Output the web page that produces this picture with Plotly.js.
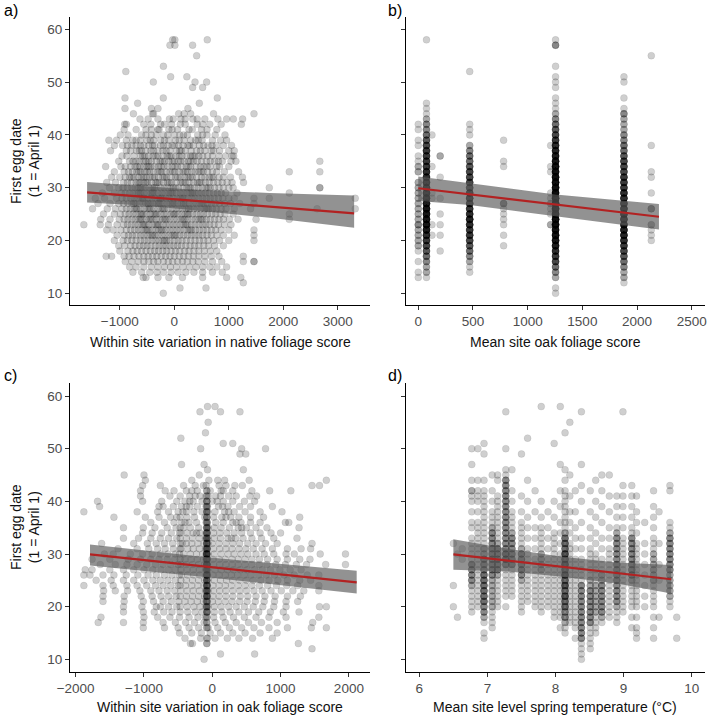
<!DOCTYPE html>
<html>
<head>
<meta charset="utf-8">
<script src="https://cdn.plot.ly/plotly-3.0.1.min.js"></script>
<style>
  html, body { margin: 0; padding: 0; background: #fff; }
  #chart { width: 709px; height: 720px; }
</style>
</head>
<body>
<div id="chart"></div>
<script>
// ---------- a) first egg date vs within-site variation in native foliage score ----------
// each row: [first egg date, [native foliage score deviations of nests started that day]]
const nativeRows = [
  [58, [-30, 10, 605]],
  [57, [-80, 10, 336]],
  [55, [410]],
  [53, [-200]],
  [52, [-890]],
  [51, [-67, 230]],
  [50, [-385, 380, 593]],
  [49, [336, 520]],
  [47, [-905, -202, 789]],
  [46, [-673, 459]],
  [45, [-905, -420, -300, 250]],
  [44, [-750, -400, -380, 80, 180, 300, 720, 1462]],
  [43, [-630, -480, -300, -90, -20, 120, 200, 340, 420, 560, 800, 960, 1083, 1254]],
  [42, [-910, -880, -560, -430, -250, -180, -50, 110, 200, 420, 520, 650, 860, 1230]],
  [41, [-920, -700, -520, -420, -300, -280, -100, -40, 60, 270, 330, 500, 600, 780]],
  [40, [-990, -850, -600, -520, -420, -330, -200, -120, 0, 100, 170, 240, 430, 520, 600, 750, 930]],
  [39, [-1200, -1060, -880, -760, -700, -620, -500, -440, -380, -250, -180, -100, 20, 90, 180, 300, 390, 440, 510, 700, 850, 960]],
  [38, [-1100, -950, -860, -780, -700, -620, -560, -470, -400, -360, -250, -200, -120, -40, 0, 80, 160, 250, 280, 350, 460, 540, 620, 690, 770, 900, 1050]],
  [37, [-1170, -880, -800, -690, -640, -600, -520, -430, -380, -300, -210, -150, -80, 40, 100, 130, 200, 310, 410, 480, 560, 680, 720, 830, 1000, 1100]],
  [36, [-960, -870, -740, -620, -580, -540, -470, -390, -340, -300, -210, -130, -90, -60, 30, 90, 140, 230, 300, 340, 380, 450, 520, 610, 700, 820, 940, 1060, 1090]],
  [35, [-1020, -820, -760, -700, -640, -560, -520, -470, -420, -330, -260, -220, -180, -100, -40, 0, 70, 120, 180, 260, 300, 350, 420, 500, 590, 660, 740, 810, 880, 1040, 1130, 2670]],
  [34, [-1260, -980, -900, -800, -720, -680, -630, -560, -500, -470, -430, -360, -290, -240, -190, -120, -40, 10, 60, 130, 220, 260, 300, 400, 480, 540, 600, 660, 780, 830, 1000]],
  [33, [-1100, -920, -840, -770, -690, -650, -620, -540, -500, -450, -380, -300, -260, -230, -150, -80, -30, 10, 90, 160, 200, 240, 320, 380, 450, 490, 530, 610, 700, 780, 920, 1180, 2110, 2670]],
  [32, [-1150, -1000, -900, -820, -780, -740, -660, -600, -560, -520, -450, -400, -360, -290, -210, -180, -140, -60, 20, 60, 110, 190, 250, 290, 330, 410, 500, 560, 640, 690, 720, 820, 900, 1030, 1250]],
  [31, [-1240, -1080, -930, -860, -790, -700, -660, -630, -560, -520, -490, -420, -340, -310, -280, -200, -130, -90, -50, 40, 120, 160, 200, 270, 350, 420, 460, 490, 570, 640, 720, 800, 880, 970, 1060, 1270]],
  [30, [-1190, -1020, -940, -860, -780, -720, -660, -620, -590, -530, -460, -400, -370, -330, -250, -190, -120, -60, -20, 20, 80, 160, 230, 270, 300, 370, 440, 510, 580, 620, 660, 740, 820, 900, 1000, 1080, 1743, 2670, 2670]],
  [29, [-1320, -1100, -970, -900, -820, -760, -690, -650, -620, -560, -500, -430, -400, -370, -300, -230, -170, -100, -60, -30, 40, 110, 170, 240, 300, 330, 370, 440, 500, 570, 640, 720, 790, 860, 940, 1150, 2110]],
  [28, [-1450, -1280, -1060, -960, -880, -800, -740, -670, -610, -580, -550, -480, -410, -350, -280, -250, -220, -150, -90, -20, 50, 110, 150, 180, 250, 320, 380, 450, 520, 590, 660, 730, 810, 890, 1000, 1100, 1462, 1743, 3320]],
  [27, [-1400, -1180, -1020, -930, -850, -780, -740, -710, -640, -580, -520, -480, -450, -390, -330, -290, -260, -200, -130, -70, -30, 0, 60, 130, 170, 200, 270, 340, 400, 470, 510, 540, 610, 680, 750, 830, 920, 1030, 1200, 1462]],
  [26, [-1500, -1230, -1080, -960, -880, -810, -740, -700, -680, -620, -550, -490, -460, -430, -370, -300, -240, -210, -180, -110, -40, 30, 90, 150, 220, 260, 290, 360, 420, 490, 560, 600, 630, 700, 770, 860, 950, 1100, 1400, 2620, 3320]],
  [25, [-1300, -1100, -990, -900, -830, -760, -700, -630, -600, -570, -510, -440, -380, -350, -320, -250, -190, -130, -60, -10, 10, 70, 140, 200, 240, 270, 340, 410, 480, 540, 610, 690, 760, 840, 930, 1080, 2110]],
  [24, [-1350, -1180, -1010, -920, -850, -780, -710, -650, -620, -590, -520, -460, -430, -400, -330, -270, -210, -170, -140, -80, -10, 50, 120, 160, 190, 250, 320, 390, 450, 490, 520, 590, 660, 740, 820, 900, 1010, 1170, 1500, 2110]],
  [23, [-1660, -1360, -1210, -1050, -930, -860, -790, -720, -660, -590, -560, -530, -470, -400, -340, -310, -280, -210, -150, -90, -20, 40, 110, 170, 210, 240, 310, 380, 450, 520, 580, 650, 730, 810, 920, 1040]],
  [22, [-1240, -1120, -980, -880, -800, -730, -660, -600, -530, -500, -470, -400, -340, -280, -240, -210, -150, -80, -20, 50, 110, 180, 250, 290, 320, 390, 460, 530, 600, 680, 760, 860, 1000, 1462]],
  [21, [-1050, -920, -840, -770, -700, -620, -560, -490, -430, -400, -360, -300, -230, -170, -100, -40, 0, 30, 100, 170, 240, 310, 380, 450, 520, 600, 680, 780, 900, 1100, 1462]],
  [20, [-1100, -940, -860, -780, -700, -620, -550, -480, -410, -340, -280, -210, -180, -140, -80, 0, 70, 140, 220, 300, 380, 460, 540, 620, 720, 830, 1000, 1462]],
  [19, [-1020, -910, -800, -720, -640, -570, -500, -430, -350, -280, -210, -150, -80, -10, 60, 130, 210, 290, 370, 450, 540, 630, 740, 900]],
  [18, [-1000, -850, -760, -680, -600, -520, -440, -360, -290, -210, -140, -60, 20, 100, 190, 270, 360, 450, 550, 660, 780]],
  [17, [-1250, -1150, -920, -830, -740, -650, -560, -480, -400, -320, -240, -160, -80, 0, 90, 170, 260, 350, 450, 560, 680, 820, 1266]],
  [16, [-900, -780, -660, -560, -470, -380, -300, -200, -110, -30, 60, 150, 240, 340, 440, 560, 700, 870, 1266, 1462, 1462]],
  [15, [-820, -700, -560, -420, -300, -180, -70, 40, 160, 280, 400, 520, 650, 780, 960]],
  [14, [-760, -600, -450, -320, -200, -60, 70, 210, 360, 520, 700, 880]],
  [13, [-570, -520, -300, -100, 150, 520, 960, 1220]],
  [12, [1266]],
  [11, [104, 581]],
  [10, [-202]]
];
const nativeFitX = [-1600, 3300];
const nativeFitY = [29.1, 25.15];
const nativeBandX  = [-1600, -500, 500, 1750, 3300];
const nativeBandLo = [27.2, 26.6, 25.6, 24.3, 22.4];
const nativeBandHi = [31.1, 30.2, 29.5, 29.0, 28.5];

// ---------- b) first egg date vs mean site oak foliage score ----------
const oakSiteScore = [0, 75, 125, 200, 470, 780, 1210, 1255, 1880, 2130];
const oakSiteDates = [
  [42, 41, 39, 38, 36, 35, 34, 33, 31, 30, 29, 28, 27, 26, 25, 24, 23, 22, 21, 20, 19, 18, 16, 14, 13],
  [58, 46, 45, 44, 43, 42, 41, 40, 39, 38, 37, 36, 35, 34, 33, 32, 31, 30, 29, 28, 27, 26, 25, 24, 23, 22, 21, 20, 19, 18, 17, 16, 15, 14, 13],
  [40, 34, 29, 28, 23, 21],
  [36, 32, 28, 25, 23, 21, 18],
  [52, 42, 41, 40, 38, 37, 36, 35, 34, 33, 32, 31, 30, 29, 28, 27, 26, 25, 24, 23, 22, 21, 20, 19, 18, 17, 16, 15, 14],
  [39, 35, 34, 27, 26, 25, 24, 23, 21, 19],
  [38, 34, 33, 29, 28, 27, 26, 25, 23],
  [58, 57, 53, 51, 50, 49, 47, 46, 45, 44, 43, 42, 41, 40, 39, 38, 37, 36, 35, 34, 33, 32, 31, 30, 29, 28, 27, 26, 25, 24, 23, 22, 21, 20, 19, 18, 17, 16, 15, 14, 13, 11, 10],
  [51, 50, 47, 45, 44, 43, 42, 41, 40, 39, 38, 37, 36, 35, 34, 33, 32, 31, 30, 29, 28, 27, 26, 25, 24, 23, 22, 21, 20, 19, 18, 17, 16, 15, 14, 13, 12],
  [55, 38, 33, 32, 29, 26, 23, 22, 21, 20]
];
// number of nests sharing each site/date combination
const oakSiteCounts = [
  [1, 1, 1, 1, 1, 1, 2, 2, 2, 2, 2, 2, 2, 2, 2, 2, 3, 2, 2, 2, 2, 1, 1, 1, 1],
  [1, 1, 1, 1, 2, 3, 3, 4, 5, 6, 7, 7, 7, 7, 8, 8, 9, 9, 9, 10, 10, 11, 11, 11, 11, 10, 8, 7, 6, 5, 4, 3, 2, 2, 1],
  [1, 1, 1, 1, 1, 1],
  [2, 1, 1, 1, 1, 1, 1],
  [1, 1, 1, 1, 2, 3, 4, 4, 5, 6, 6, 6, 6, 7, 7, 7, 7, 8, 9, 8, 7, 7, 6, 5, 4, 3, 2, 1, 1],
  [1, 1, 1, 3, 1, 1, 1, 1, 1, 1],
  [1, 1, 1, 1, 1, 2, 1, 1, 2],
  [1, 3, 1, 1, 1, 1, 1, 1, 1, 2, 3, 4, 5, 6, 7, 8, 9, 10, 11, 12, 12, 13, 13, 13, 13, 13, 13, 13, 13, 13, 13, 12, 12, 11, 10, 8, 7, 6, 4, 3, 2, 1, 1],
  [1, 1, 1, 1, 3, 2, 2, 2, 3, 3, 4, 4, 5, 6, 6, 6, 7, 7, 7, 8, 8, 8, 9, 9, 9, 9, 9, 9, 8, 7, 6, 5, 4, 3, 2, 2, 1],
  [1, 1, 1, 1, 1, 3, 2, 1, 1, 1]
];
const oakSiteFitX = [0, 2200];
const oakSiteFitY = [29.9, 24.5];
const oakSiteBandX  = [0, 470, 1255, 2200];
const oakSiteBandLo = [27.5, 26.7, 24.6, 22.1];
const oakSiteBandHi = [32.1, 30.8, 28.7, 26.9];

// ---------- c) first egg date vs within-site variation in oak foliage score ----------
const oakVarRows = [
  [58, [-70, 40]],
  [57, [-180, 120, 405]],
  [55, [-60]],
  [53, [-100]],
  [52, [-460]],
  [51, [160, 300]],
  [50, [-170, 430, 780]],
  [49, [405, 490]],
  [47, [-450, -120]],
  [46, [-70, 455]],
  [45, [-1290, -1000, -190]],
  [44, [-980, -300, -50, 80, 180, 540, 1670]],
  [43, [-1020, -760, -420, -250, -130, -90, 100, 200, 330, 440, 1460, 1570]],
  [42, [-1050, -690, -560, -380, -300, -220, -80, -30, 130, 160, 300, 580, 840, 1150]],
  [41, [-1050, -620, -470, -330, -250, -180, -90, -60, 50, 120, 240, 350, 550, 650]],
  [40, [-1680, -1020, -740, -520, -400, -330, -280, -150, -80, 0, 70, 160, 300, 470, 620]],
  [39, [-1650, -780, -720, -570, -450, -380, -330, -220, -90, -70, 90, 150, 230, 400, 560, 880]],
  [38, [-1880, -1100, -800, -640, -500, -430, -380, -270, -150, -80, -60, 40, 180, 240, 320, 480, 700, 1020]],
  [37, [-1440, -980, -780, -610, -520, -470, -370, -260, -110, -80, 20, 140, 200, 270, 390, 560, 750, 1280]],
  [36, [-900, -700, -560, -450, -400, -340, -230, -90, -70, 50, 160, 300, 350, 420, 560, 700, 1070, 1120]],
  [35, [-1300, -1010, -840, -660, -530, -470, -420, -320, -200, -80, -60, 30, 130, 250, 380, 430, 500, 640, 800, 1270]],
  [34, [-1020, -880, -740, -600, -480, -460, -370, -280, -230, -180, -90, -70, 20, 110, 210, 320, 430, 560, 700, 860, 1000]],
  [33, [-1300, -1080, -900, -760, -640, -520, -470, -380, -290, -190, -100, -80, -60, 30, 120, 230, 280, 340, 450, 580, 720, 900, 1240]],
  [32, [-1620, -1150, -950, -820, -700, -580, -470, -440, -380, -300, -210, -120, -80, -60, 0, 100, 200, 300, 400, 520, 640, 780, 950, 1460]],
  [31, [-1380, -1100, -930, -800, -690, -570, -470, -460, -360, -280, -190, -100, -80, -70, 20, 110, 200, 290, 390, 490, 600, 730, 880, 1100, 1300, 1440]],
  [30, [-1580, -1450, -1200, -1020, -880, -760, -650, -540, -480, -420, -320, -230, -140, -90, -80, -60, 30, 130, 230, 320, 420, 520, 640, 760, 900, 1080, 1200, 1580, 1950]],
  [29, [-1760, -1500, -1230, -1050, -900, -780, -660, -550, -470, -400, -310, -220, -130, -90, -70, 10, 100, 190, 290, 380, 480, 580, 690, 810, 950, 1100, 1280, 1430]],
  [28, [-1640, -1420, -1250, -1100, -960, -830, -720, -610, -500, -460, -380, -290, -200, -110, -80, -70, 20, 110, 200, 290, 380, 480, 580, 690, 800, 930, 1070, 1230, 1380, 1660, 1950]],
  [27, [-1860, -1760, -1500, -1300, -1150, -1000, -870, -750, -640, -540, -460, -370, -280, -190, -100, -80, -60, 40, 130, 220, 310, 410, 510, 620, 730, 850, 990, 1140, 1300]],
  [26, [-1880, -1790, -1600, -1440, -1260, -1090, -940, -820, -700, -590, -480, -450, -360, -270, -180, -90, -80, -70, 10, 100, 190, 280, 370, 470, 570, 680, 790, 910, 1050, 1200, 1390, 1560]],
  [25, [-1700, -1480, -1300, -1150, -1000, -870, -760, -650, -540, -460, -380, -290, -200, -110, -80, -60, 30, 120, 210, 300, 400, 500, 600, 710, 830, 960, 1100, 1280, 1440]],
  [24, [-1880, -1600, -1450, -1250, -1100, -960, -830, -720, -610, -500, -470, -390, -300, -210, -120, -80, -70, 10, 100, 190, 280, 380, 480, 580, 690, 810, 940, 1090, 1250, 1560]],
  [23, [-1590, -1420, -1240, -1060, -900, -780, -660, -550, -460, -370, -280, -190, -100, -80, -60, 20, 110, 200, 300, 400, 500, 610, 730, 860, 1010, 1180, 1340, 1560]],
  [22, [-1600, -1290, -1040, -880, -750, -640, -530, -470, -380, -290, -200, -110, -80, -70, 10, 100, 200, 300, 410, 520, 640, 770, 920, 1100, 1290]],
  [21, [-1600, -1290, -1010, -860, -720, -600, -490, -400, -310, -220, -130, -90, -70, 0, 90, 190, 290, 400, 510, 630, 760, 910, 1080, 1250]],
  [20, [-1300, -1030, -820, -760, -640, -520, -470, -370, -270, -180, -90, -80, -60, 30, 130, 240, 350, 470, 600, 740, 900, 1080, 1570, 1670]],
  [19, [-1300, -1010, -850, -710, -590, -470, -360, -250, -150, -80, -70, 30, 140, 260, 390, 530, 680, 850, 1040, 1270]],
  [18, [-1630, -1000, -800, -620, -480, -340, -210, -100, -80, 20, 160, 310, 470, 640, 830, 1080, 1560]],
  [17, [-1670, -1300, -1010, -720, -540, -390, -260, -120, -80, 40, 190, 350, 530, 720, 950, 1470]],
  [16, [-1010, -700, -500, -340, -200, -80, -60, 80, 250, 430, 610, 830, 1100, 1450, 1670]],
  [15, [-480, -300, -160, -30, 120, 300, 480, 700, 950]],
  [14, [-400, -170, -70, 40, 220, 390, 590, 880]],
  [13, [-320, -290, -80, 1260]],
  [12, [1460]],
  [11, [120, 620]],
  [10, [-120]]
];
// nests at sites whose oak score sits just below the site mean
const oakVarNearMean = -80;
const oakVarNearMeanDates = [42, 41, 40, 40, 39, 39, 38, 38, 37, 37, 36, 36, 35, 35, 35, 34, 34, 34,
  33, 33, 33, 32, 32, 32, 31, 31, 31, 30, 30, 30, 30, 29, 29, 29, 29, 28, 28, 28, 28,
  27, 27, 27, 26, 26, 26, 25, 25, 25, 24, 24, 24, 23, 23, 23, 22, 22, 22,
  21, 21, 20, 20, 19, 19, 18, 17, 16, 14, 13];
const oakVarFitX = [-1790, 2114];
const oakVarFitY = [29.94, 24.6];
const oakVarBandX  = [-1790, -80, 2114];
const oakVarBandLo = [27.8, 25.6, 22.5];
const oakVarBandHi = [31.8, 29.4, 26.8];

// ---------- d) first egg date vs mean site spring temperature ----------
const springTemp = [6.50, 6.56, 6.63, 6.77, 6.86, 6.95, 7.07, 7.15, 7.27, 7.36, 7.50, 7.59, 7.70, 7.79, 7.89, 7.98,
                    8.07, 8.14, 8.21, 8.29, 8.38, 8.51, 8.59, 8.68, 8.79, 8.90, 8.99, 9.12, 9.19, 9.31, 9.44, 9.52, 9.68, 9.78];
const springTempDates = [
  [32, 24, 20],
  [30, 18],
  [31, 29],
  [50, 47, 44, 42, 42, 41, 40, 38, 36, 35, 33, 32, 31, 30, 29, 28, 28, 27, 27, 26, 26, 25, 25, 24, 23, 22, 21, 20, 19, 28, 27, 26, 25, 24],
  [50, 44, 42, 41, 40, 38, 36, 35, 34, 33, 32, 31, 30, 29, 28, 27, 26, 25, 24, 23, 22, 21, 20],
  [51, 49, 44, 42, 41, 40, 39, 38, 37, 36, 35, 34, 33, 32, 31, 31, 30, 30, 29, 29, 29, 28, 28, 28, 27, 27, 27, 26, 26, 26, 26,
   25, 25, 25, 25, 24, 24, 24, 24, 23, 23, 23, 23, 22, 22, 22, 22, 21, 21, 21, 21, 20, 20, 20, 19, 19, 19, 18, 18, 17, 15, 14],
  [45, 42, 40, 38, 37, 36, 35, 34, 34, 33, 33, 32, 32, 31, 31, 30, 30, 29, 29, 28, 28, 27, 27, 26, 26, 25, 24, 23, 22, 21, 20, 19, 18, 17, 16,
   35, 34, 33, 32, 31, 30, 29, 28, 27, 26, 25, 24, 23, 22, 21, 20],
  [45, 44, 41, 40, 39, 38, 37, 36, 35, 34, 33, 32, 31, 31, 30, 30, 29, 29, 28, 28, 27, 27, 26, 25, 24, 23, 22, 21, 20, 32, 31, 30, 29, 28, 27, 26],
  [57, 50, 46, 45, 44, 44, 43, 43, 42, 42, 41, 41, 40, 40, 39, 39, 38, 38, 37, 37, 36, 36, 35, 35, 34, 34, 33, 33, 32, 32, 31, 31, 30, 30, 30,
   29, 29, 29, 28, 28, 27, 26, 25, 24, 23, 22, 20, 44, 43, 42, 41, 40, 39, 38, 37, 36, 35, 34, 33, 32, 31, 30, 29, 28],
  [46, 42, 40, 38, 37, 36, 35, 34, 33, 33, 32, 32, 31, 31, 30, 30, 29, 29, 28, 28, 27, 26, 25, 24, 23, 22, 34, 33, 32, 31, 30, 29, 28],
  [49, 41, 38, 36, 35, 34, 33, 32, 31, 30, 30, 29, 29, 28, 28, 27, 27, 26, 26, 25, 24, 23, 22, 21, 20, 19, 31, 30, 29, 28, 27, 26, 25],
  [52, 44, 40, 37, 35, 33, 31, 30, 29, 28, 27, 26, 25, 24, 23, 22, 21],
  [42, 38, 35, 33, 31, 29, 28, 27, 26, 25, 24, 23, 22, 21, 20],
  [58, 40, 37, 35, 34, 33, 32, 31, 30, 30, 29, 29, 28, 28, 27, 27, 26, 25, 24, 23, 22, 21, 20, 19],
  [38, 35, 33, 31, 29, 28, 27, 26, 25, 24, 23, 22, 21, 20],
  [51, 40, 37, 34, 33, 32, 31, 30, 29, 28, 27, 26, 25, 24, 23, 22, 21, 20, 19, 18],
  [58, 47, 42, 39, 36, 34, 32, 30, 29, 28, 27, 26, 25, 24, 23, 22, 21, 20, 19, 18, 16],
  [53, 46, 44, 42, 41, 40, 39, 38, 37, 36, 35, 34, 34, 33, 33, 33, 32, 32, 32, 31, 31, 31, 30, 30, 30, 29, 29, 29, 28, 28, 28,
   27, 27, 27, 26, 26, 26, 25, 25, 25, 24, 24, 24, 23, 23, 23, 22, 22, 22, 21, 21, 21, 20, 20, 20, 19, 19, 18, 18, 17, 16, 15,
   33, 32, 31, 30, 29, 28, 27, 26, 25, 24, 23, 22, 21, 20, 19, 18, 17, 30, 28, 26, 24, 22],
  [55, 45, 41, 38, 36, 34, 32, 31, 30, 29, 28, 27, 26, 25, 24, 23, 22, 21, 20, 19, 18, 17],
  [42, 38, 35, 33, 31, 29, 28, 27, 26, 25, 24, 23, 22, 21, 20, 19, 18, 17, 16, 14],
  [57, 47, 43, 40, 36, 33, 31, 29, 28, 27, 26, 25, 24, 24, 23, 23, 22, 22, 21, 21, 20, 20, 19, 19, 18, 18, 17, 17, 16, 16, 15, 15,
   14, 14, 13, 12, 11, 10, 24, 23, 22, 21, 20, 19, 18, 17, 16, 15, 14],
  [42, 38, 35, 33, 31, 30, 29, 28, 27, 26, 25, 24, 23, 23, 22, 22, 21, 21, 20, 20, 19, 19, 18, 18, 17, 17, 16, 15, 14, 13, 12,
   25, 24, 23, 22, 21, 20, 19, 18, 17],
  [44, 40, 37, 34, 32, 30, 29, 28, 27, 26, 25, 24, 23, 22, 21, 20, 19, 18, 17, 16, 15, 24, 23, 22, 21, 20, 19],
  [45, 42, 39, 36, 33, 31, 29, 28, 27, 26, 25, 24, 24, 23, 23, 22, 22, 21, 21, 20, 20, 19, 19, 18, 17, 26, 25, 24, 23, 22, 21, 20, 19, 18],
  [45, 41, 38, 35, 33, 31, 30, 29, 28, 27, 26, 25, 24, 23, 22, 21, 20, 19, 18],
  [41, 39, 37, 35, 34, 34, 33, 33, 32, 32, 31, 31, 30, 30, 29, 29, 28, 28, 27, 27, 26, 26, 25, 25, 24, 24, 23, 23, 22, 22, 21, 21,
   20, 20, 19, 18, 17, 33, 32, 31, 30, 29, 28, 27, 26, 25, 24, 23, 22, 21],
  [57, 43, 41, 39, 37, 35, 33, 32, 31, 30, 29, 28, 27, 26, 25, 24, 23, 22, 21, 20, 19],
  [43, 41, 39, 37, 35, 34, 33, 33, 32, 32, 31, 31, 30, 30, 29, 29, 28, 28, 27, 27, 26, 26, 25, 24, 23, 22, 21, 20, 18, 16,
   33, 32, 31, 30, 29, 28, 27, 26, 25],
  [41, 38, 36, 34, 32, 31, 30, 29, 28, 27, 26, 25, 24, 23, 22, 21, 20, 18, 16, 15, 14],
  [36, 32, 30, 28, 26, 24, 22, 20],
  [42, 39, 37, 35, 33, 32, 31, 30, 29, 28, 27, 26, 25, 24, 23, 22, 21, 20, 18, 16, 14, 30, 29, 28, 27, 26, 25],
  [38, 32, 28, 25, 18],
  [43, 42, 36, 35, 34, 33, 33, 32, 32, 31, 31, 30, 30, 29, 29, 28, 28, 27, 27, 26, 25, 24, 23, 22, 21, 20,
   34, 33, 32, 31, 30, 29, 28, 27, 26, 25, 24, 23, 22],
  [18, 14]
];
const springTempFitX = [6.5, 9.7];
const springTempFitY = [29.94, 25.2];
const springTempBandX  = [6.5, 7.3, 8.1, 8.9, 9.7];
const springTempBandLo = [27.0, 26.7, 25.7, 24.4, 22.5];
const springTempBandHi = [32.8, 31.0, 29.5, 28.4, 27.9];

// ---------- tick values ----------
const dateTicks = [10, 20, 30, 40, 50, 60];
const nativeTicks = [-1000, 0, 1000, 2000, 3000];
const oakSiteTicks = [0, 500, 1000, 1500, 2000, 2500];
const oakVarTicks = [-2000, -1000, 0, 1000, 2000];
const tempTicks = [6, 7, 8, 9, 10];

// ---------- helpers ----------
function fromRows(rows) {
  const x = [], y = [];
  rows.forEach(([date, scores]) => scores.forEach(s => { x.push(s); y.push(date); }));
  return { x, y };
}
function fromColumns(colX, colDates, colCounts) {
  const x = [], y = [];
  colX.forEach((cx, i) => {
    colDates[i].forEach((d, j) => {
      const n = colCounts ? colCounts[i][j] : 1;
      for (let k = 0; k < n; k++) { x.push(cx); y.push(d); }
    });
  });
  return { x, y };
}

const oakVarPts = fromRows(oakVarRows);
oakVarNearMeanDates.forEach(d => { oakVarPts.x.push(oakVarNearMean); oakVarPts.y.push(d); });

const pointStyle = {
  size: 7,
  color: 'rgba(0,0,0,0.19)',
  line: { width: 0.6, color: 'rgba(0,0,0,0.12)' }
};

function panelTraces(pts, fitX, fitY, bandX, bandLo, bandHi, xa, ya) {
  return [
    { type: 'scatter', mode: 'markers', x: pts.x, y: pts.y, xaxis: xa, yaxis: ya,
      marker: pointStyle, hoverinfo: 'skip', showlegend: false },
    { type: 'scatter', mode: 'lines', x: bandX, y: bandLo, xaxis: xa, yaxis: ya,
      line: { width: 0, color: 'rgba(0,0,0,0)' }, hoverinfo: 'skip', showlegend: false },
    { type: 'scatter', mode: 'lines', x: bandX, y: bandHi, xaxis: xa, yaxis: ya,
      fill: 'tonexty', fillcolor: 'rgba(90,90,90,0.66)',
      line: { width: 0, color: 'rgba(0,0,0,0)' }, hoverinfo: 'skip', showlegend: false },
    { type: 'scatter', mode: 'lines', x: fitX, y: fitY, xaxis: xa, yaxis: ya,
      line: { width: 2.2, color: '#b22222' }, hoverinfo: 'skip', showlegend: false }
  ];
}

const data = [].concat(
  panelTraces(fromRows(nativeRows), nativeFitX, nativeFitY, nativeBandX, nativeBandLo, nativeBandHi, 'x', 'y'),
  panelTraces(fromColumns(oakSiteScore, oakSiteDates, oakSiteCounts), oakSiteFitX, oakSiteFitY, oakSiteBandX, oakSiteBandLo, oakSiteBandHi, 'x2', 'y2'),
  panelTraces(oakVarPts, oakVarFitX, oakVarFitY, oakVarBandX, oakVarBandLo, oakVarBandHi, 'x3', 'y3'),
  panelTraces(fromColumns(springTemp, springTempDates), springTempFitX, springTempFitY, springTempBandX, springTempBandLo, springTempBandHi, 'x4', 'y4')
);

// ---------- layout ----------
const W = 709, H = 720;
const FONT = 'Liberation Sans, Arial, Helvetica, sans-serif';
const px = v => v / W;          // pixel -> paper x
const py = v => 1 - v / H;      // pixel -> paper y

function axisBase(extra) {
  return Object.assign({
    showline: true, linecolor: '#000', linewidth: 1.1,
    ticks: 'outside', ticklen: 4, tickwidth: 1, tickcolor: '#333',
    tickfont: { family: FONT, size: 13.5, color: '#4d4d4d' },
    showgrid: false, zeroline: false, fixedrange: true, tickmode: 'array'
  }, extra);
}

const leftDom = [px(70), px(370)];
const rightDom = [px(405.7), px(705)];
const topDom = [py(305), py(17)];
const botDom = [py(671.7), py(383)];

function annot(text, x, y, opts) {
  return Object.assign({
    text, x: px(x), y: py(y), xref: 'paper', yref: 'paper', showarrow: false,
    xanchor: 'center', yanchor: 'middle',
    font: { family: FONT, size: 14, color: '#111' }
  }, opts || {});
}
const letterFont = { family: FONT, size: 16, color: '#000' };

const layout = {
  width: W, height: H,
  margin: { l: 0, r: 0, t: 0, b: 0 },
  paper_bgcolor: '#fff', plot_bgcolor: '#fff',
  showlegend: false, hovermode: false,
  xaxis:  axisBase({ domain: leftDom,  range: [-1914, 3591], tickvals: nativeTicks, anchor: 'y' }),
  yaxis:  axisBase({ domain: topDom,   range: [7.78, 62.33], tickvals: dateTicks, anchor: 'x' }),
  xaxis2: axisBase({ domain: rightDom, range: [-115, 2621], tickvals: oakSiteTicks, anchor: 'y2' }),
  yaxis2: axisBase({ domain: topDom,   range: [7.78, 62.33], tickvals: dateTicks, showticklabels: false, anchor: 'x2' }),
  xaxis3: axisBase({ domain: leftDom,  range: [-2083, 2309], tickvals: oakVarTicks, anchor: 'y3' }),
  yaxis3: axisBase({ domain: botDom,   range: [7.65, 62.47], tickvals: dateTicks, anchor: 'x3' }),
  xaxis4: axisBase({ domain: rightDom, range: [5.80, 10.195], tickvals: tempTicks, anchor: 'y4' }),
  yaxis4: axisBase({ domain: botDom,   range: [7.65, 62.47], tickvals: dateTicks, showticklabels: false, anchor: 'x4' }),
  annotations: [
    // panel letters
    annot('a)', 2, 11, { xanchor: 'left', font: letterFont }),
    annot('b)', 386, 11, { xanchor: 'left', font: letterFont }),
    annot('c)', 2, 375, { xanchor: 'left', font: letterFont }),
    annot('d)', 386, 375, { xanchor: 'left', font: letterFont }),
    // x-axis titles
    annot('Within site variation in native foliage score', 220, 342),
    annot('Mean site oak foliage score', 555, 342),
    annot('Within site variation in oak foliage score', 220, 707),
    annot('Mean site level spring temperature (°C)', 555, 707),
    // y-axis titles
    annot('First egg date<br>(1 = April 1)', 25, 161, { textangle: -90 }),
    annot('First egg date<br>(1 = April 1)', 25, 527, { textangle: -90 })
  ]
};

Plotly.newPlot('chart', data, layout, { displayModeBar: false, staticPlot: true });
</script>
</body>
</html>
